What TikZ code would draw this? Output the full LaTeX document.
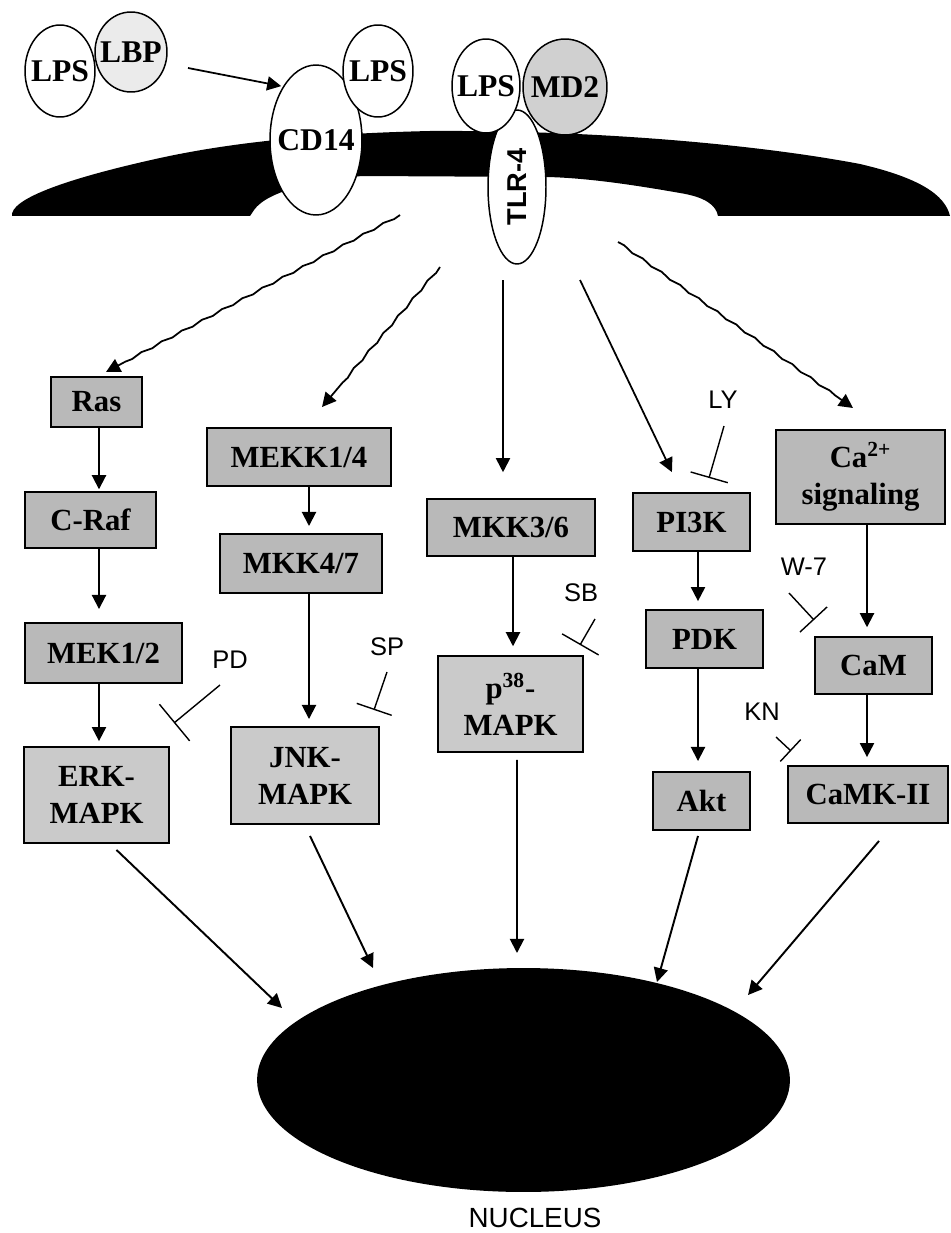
\documentclass[tikz,border=0pt]{standalone}
\usepackage{fontspec}
\setmainfont{Liberation Serif}
\setsansfont{Liberation Sans}
\usetikzlibrary{arrows.meta,shapes.geometric,decorations.pathmorphing}
\definecolor{boxGray}{HTML}{B9B9B9}
\definecolor{mapkGray}{HTML}{CACACA}
\definecolor{lbpGray}{HTML}{EBEBEB}
\definecolor{mdGray}{HTML}{D0D0D0}

\tikzset{
  prot/.style={ellipse,draw=black,line width=0.85pt,fill=white,inner sep=-10pt,
    font=\fontsize{18}{20}\selectfont\bfseries},
  protBox/.style={rectangle,draw=black,line width=1.1pt,fill=boxGray,inner sep=0pt,
    align=center,font=\fontsize{17.5}{21}\selectfont\bfseries},
  mapkBox/.style={protBox,fill=mapkGray},
  arr/.style={line width=1.1pt,-{Triangle[length=8pt,width=8pt]}},
  wavy/.style={decorate,decoration={snake,amplitude=0.5pt,segment length=13pt,post length=12pt}},
  inhib/.style={line width=0.8pt},
  drug/.style={font=\fontsize{14.5}{16}\selectfont\sffamily,inner sep=0pt}
}

\begin{document}
\begin{tikzpicture}[x=0.02cm,y=-0.02cm]
  \useasboundingbox (0,0) rectangle (950,1233);

  % мембрана
  \fill[black] (12,216) .. controls (10,200) and (60,180) .. (160,158)
    .. controls (220,145) and (300,134) .. (430,131)
    .. controls (600,130) and (760,145) .. (860,164)
    .. controls (920,178) and (945,195) .. (950,216) -- (718,216)
    .. controls (716,205) and (705,197) .. (680,193)
    .. controls (640,186) and (590,178) .. (547,177) -- (362,176)
    .. controls (320,180) and (268,190) .. (254,210) -- (250,216) -- cycle;

  % рецепторы и лиганды
  \node[prot,minimum width=1.40cm,minimum height=1.84cm] (lpsA) at (60,71) {LPS};
  \node[prot,fill=lbpGray,minimum width=1.44cm,minimum height=1.60cm] (lbp) at (131,52) {LBP};
  \node[prot,minimum width=1.84cm,minimum height=3.00cm] (cd14) at (316,140) {CD14};
  \node[prot,minimum width=1.40cm,minimum height=1.84cm] (lpsB) at (378,71) {LPS};
  \node[prot,rotate=90,minimum width=3.08cm,minimum height=1.16cm,
    font=\fontsize{15.5}{17}\selectfont\sffamily\bfseries] (tlr) at (517,187) {TLR-4};
  \node[prot,minimum width=1.36cm,minimum height=1.88cm] (lpsC) at (486,86) {LPS};
  \node[prot,fill=mdGray,minimum width=1.68cm,minimum height=1.92cm] (md2) at (565,87) {MD2};

  \coordinate (lbpOut) at (188,68);
  \draw[arr,line width=1pt,shorten >=1pt] (lbpOut) -- (cd14.north west);

  % каскады
  \node[protBox,minimum width=1.82cm,minimum height=1.00cm] (ras) at (96.5,402) {Ras};
  \node[protBox,minimum width=2.62cm,minimum height=1.12cm] (craf) at (90.5,520) {C-Raf};
  \node[protBox,minimum width=3.14cm,minimum height=1.20cm] (mek) at (103.5,653) {MEK1/2};
  \node[mapkBox,minimum width=2.90cm,minimum height=1.92cm] (erk) at (96.5,795) {ERK-\\MAPK};

  \node[protBox,minimum width=3.68cm,minimum height=1.16cm] (mekk) at (299,457) {MEKK1/4};
  \node[protBox,minimum width=3.24cm,minimum height=1.18cm] (mkkA) at (301,563.5) {MKK4/7};
  \node[mapkBox,minimum width=2.96cm,minimum height=1.94cm] (jnk) at (305,775.5) {JNK-\\MAPK};

  \node[protBox,minimum width=3.36cm,minimum height=1.14cm] (mkkB) at (511,527.5) {MKK3/6};
  \node[mapkBox,minimum width=2.90cm,minimum height=1.92cm] (p38) at (510.5,704) {p\textsuperscript{38}-\\MAPK};

  \node[protBox,minimum width=2.34cm,minimum height=1.16cm] (pi3k) at (691.5,522) {PI3K};
  \node[protBox,minimum width=2.34cm,minimum height=1.16cm] (pdk) at (704.5,639) {PDK};
  \node[protBox,minimum width=1.94cm,minimum height=1.16cm] (akt) at (701.5,801) {Akt};

  \node[protBox,minimum width=3.38cm,minimum height=1.88cm] (ca) at (860.5,477) {Ca\textsuperscript{2+}\\signaling};
  \node[protBox,minimum width=2.34cm,minimum height=1.14cm] (cam) at (873.5,665.5) {CaM};
  \node[protBox,minimum width=3.20cm,minimum height=1.14cm] (camk) at (868,794.5) {CaMK-II};

  \node[ellipse,fill=black,inner sep=0pt,minimum width=10.66cm,minimum height=4.48cm] (nucleus) at (523.5,1080) {};
  \node[font=\fontsize{15.8}{18}\selectfont\sffamily] (nucLabel) at (535,1218) {NUCLEUS};

  % от мембраны
  \coordinate (memA) at (400,215);
  \coordinate (memB) at (440,267);
  \coordinate (memC) at (503,280);
  \coordinate (memD) at (580,280);
  \coordinate (memE) at (618,242);
  \coordinate (toRas) at (106,372);
  \coordinate (toMekk) at (322,407);
  \coordinate (toCa) at (853,408);
  \draw[arr,line width=1pt,wavy] (memA) -- (toRas);
  \draw[arr,line width=1pt,wavy] (memB) -- (toMekk);
  \draw[arr,line width=1pt,shorten >=14.7pt] (memC) -- (memC |- mkkB.north);
  \draw[arr,line width=1pt,shorten >=12.6pt] (memD) -- ([shift={(-10,0)}]pi3k.north);
  \draw[arr,line width=1pt,wavy] (memE) -- (toCa);

  \coordinate (colErk) at (99,0);
  \coordinate (colJnk) at (309,0);
  \coordinate (colP38) at (513,0);
  \coordinate (colPi) at (698,0);
  \coordinate (colCa) at (867,0);
  \draw[arr,shorten >=1pt] (ras.south -| colErk) -- (craf.north -| colErk);
  \draw[arr,shorten >=7.4pt] (craf.south -| colErk) -- (mek.north -| colErk);
  \draw[arr,shorten >=2.8pt] (mek.south -| colErk) -- (erk.north -| colErk);
  \draw[arr,shorten >=4pt] (mekk.south -| colJnk) -- (mkkA.north -| colJnk);
  \draw[arr,shorten >=4pt] (mkkA.south -| colJnk) -- (jnk.north -| colJnk);
  \draw[arr,shorten >=5pt] (mkkB.south -| colP38) -- (p38.north -| colP38);
  \draw[arr,shorten >=4.5pt] (pi3k.south -| colPi) -- (pdk.north -| colPi);
  \draw[arr,shorten >=5.7pt] (pdk.south -| colPi) -- (akt.north -| colPi);
  \draw[arr,shorten >=5pt] (ca.south -| colCa) -- (cam.north -| colCa);
  \draw[arr,shorten >=4.5pt] (cam.south -| colCa) -- (camk.north -| colCa);

  % к ядру
  \coordinate (nucA) at (282,1008);
  \coordinate (nucB) at (373,968);
  \coordinate (nucC) at (517,953);
  \coordinate (nucD) at (657,982);
  \coordinate (nucE) at (748,995);
  \draw[arr] ([shift={(20,6)}]erk.south) -- (nucA);
  \draw[arr] ([shift={(5,11)}]jnk.south) -- (nucB);
  \draw[arr] ([shift={(6.5,7)}]p38.south) -- (nucC);
  \draw[arr] ([shift={(-3.5,5)}]akt.south) -- (nucD);
  \draw[arr] ([shift={(11,17)}]camk.south) -- (nucE);

  % ингибиторы
  \node[drug] (pd) at (230,660) {PD};
  \node[drug] (sp) at (387,647) {SP};
  \node[drug] (sb) at (581,593) {SB};
  \node[drug] (ly) at (723,400) {LY};
  \node[drug] (w7) at (804,567) {W-7};
  \node[drug] (kn) at (762,712) {KN};
  \coordinate (pdHit) at (174,723);
  \coordinate (spHit) at (374,710);
  \coordinate (sbHit) at (580,645);
  \coordinate (lyHit) at (709,478);
  \coordinate (w7Hit) at (814,620);
  \coordinate (knHit) at (791,751);
  \draw[inhib,-{Bar[width=27pt]}] ([shift={(-10,25)}]pd.center) -- (pdHit);
  \draw[inhib,-{Bar[width=21pt]}] ([shift={(0,25)}]sp.center) -- (spHit);
  \draw[inhib,-{Bar[width=24pt]}] ([shift={(14,26)}]sb.center) -- (sbHit);
  \draw[inhib,-{Bar[width=22pt]}] ([shift={(1,26)}]ly.center) -- (lyHit);
  \draw[inhib,-{Bar[width=21pt]}] ([shift={(-15,26)}]w7.center) -- (w7Hit);
  \draw[inhib,-{Bar[width=17pt]}] ([shift={(14,25)}]kn.center) -- (knHit);
\end{tikzpicture}
\end{document}
